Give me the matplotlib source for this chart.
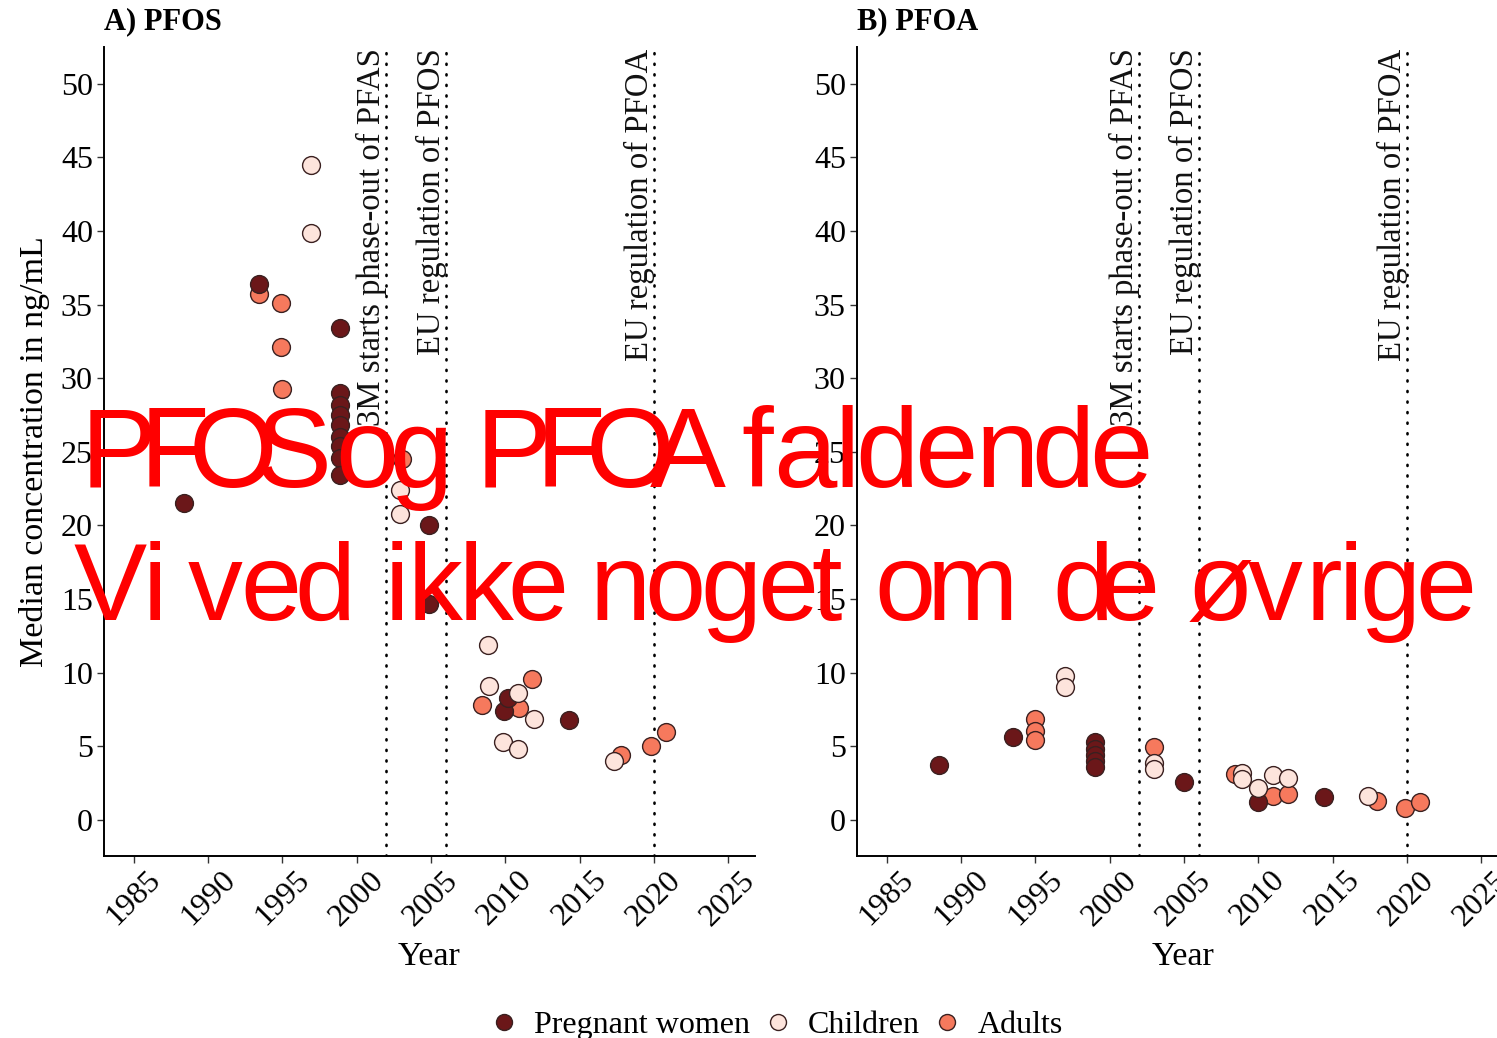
#!/usr/bin/env python3
"""
PFOS / PFOA median concentrations over time, by population group
"""
import matplotlib
matplotlib.use('Agg')
import matplotlib.pyplot as plt
from matplotlib.lines import Line2D
from matplotlib.ft2font import FT2Font
from matplotlib.font_manager import findfont, FontProperties

plt.rcParams['font.family'] = ['Liberation Serif', 'DejaVu Serif']

# === Data: A) PFOS ===
pfos_pregnant_year = [1988.4, 1993.45, 1998.9, 1998.9, 1998.9, 1998.9, 1998.9, 1998.9, 1998.9, 1998.9, 1998.9,
                      2004.85, 2004.85, 2009.9, 2010.2, 2014.3]
pfos_pregnant_val = [21.5, 36.4, 33.4, 29.0, 28.2, 27.5, 26.8, 26.0, 25.4, 24.6, 23.4,
                     20.0, 14.7, 7.4, 8.3, 6.8]
pfos_children_year = [1996.9, 1996.9, 2002.9, 2002.9, 2008.85, 2008.9, 2009.85, 2010.85, 2010.85, 2011.9, 2017.3]
pfos_children_val = [44.5, 39.9, 22.4, 20.8, 11.9, 9.1, 5.3, 8.65, 4.8, 6.84, 4.0]
pfos_adults_year = [1993.4, 1994.9, 1994.9, 1995.0, 2003.05, 2008.4, 2010.9, 2011.8, 2017.8, 2019.8, 2020.8]
pfos_adults_val = [35.7, 35.1, 32.1, 29.3, 24.5, 7.8, 7.6, 9.56, 4.4, 5.0, 5.96]

# === Data: B) PFOA ===
pfoa_pregnant_year = [1988.5, 1993.5, 1999.0, 1999.0, 1999.0, 1999.0, 1999.0, 2005.0, 2010.0, 2014.4]
pfoa_pregnant_val = [3.74, 5.64, 5.3, 4.8, 4.4, 4.0, 3.6, 2.56, 1.2, 1.59]
pfoa_children_year = [1997.0, 1997.0, 2003.0, 2003.0, 2008.9, 2008.9, 2010.0, 2011.0, 2012.0, 2017.4]
pfoa_children_val = [9.78, 9.01, 3.85, 3.46, 3.17, 2.75, 2.2, 3.06, 2.88, 1.63]
pfoa_adults_year = [1994.96, 1994.96, 1994.96, 2003.0, 2008.45, 2011.0, 2012.0, 2018.0, 2019.9, 2020.9]
pfoa_adults_val = [6.88, 6.07, 5.43, 4.98, 3.1, 1.65, 1.77, 1.29, 0.84, 1.2]

# Regulation events
event_years = [2002, 2006, 2020]
event_labels = ['3M starts phase-out of PFAS', 'EU regulation of PFOS', 'EU regulation of PFOA']

x_ticks = [1985, 1990, 1995, 2000, 2005, 2010, 2015, 2020, 2025]
y_ticks = [0, 5, 10, 15, 20, 25, 30, 35, 40, 45, 50]

groups = ['Pregnant women', 'Children', 'Adults']
colors = {'Pregnant women': '#6b1719', 'Children': '#fde4dc', 'Adults': '#f6795d'}
edge = '#3a2020'

# Overlay text (red annotation on top)
overlay_line1 = ['PFOS', 'og', 'PFOA', 'faldende']
overlay_line2 = ['Vi', 'ved', 'ikke', 'noget', 'om', 'de', 'øvrige']

W, H = 1497, 1038
fig = plt.figure(figsize=(W / 100, H / 100), dpi=100)


def draw_panel(ax, data, title):
    """Scatter for one compound"""
    for g in ['Adults', 'Pregnant women', 'Children']:
        yrs, vals = data[g]
        ax.scatter(yrs, vals, s=165, color=colors[g], edgecolors=edge, linewidths=1.0, zorder=3)

    # dotted regulation lines + rotated labels
    for yr, lab in zip(event_years, event_labels):
        ax.axvline(yr, color='black', linestyle=(0, (0.4, 3.6)), linewidth=1.9,
                   dash_capstyle='round', zorder=2)
        ax.text(yr - 1.0, 52.4, lab, rotation=90, ha='center', va='top', fontsize=23.6,
                color='#111111', zorder=4, clip_on=False)

    ax.set_xlim(1983, 2026.8)
    ax.set_ylim(-2.45, 52.5)
    ax.set_xticks(x_ticks)
    ax.set_yticks(y_ticks)
    ax.set_xticklabels([str(t) for t in x_ticks], rotation=45, ha='center')
    ax.tick_params(axis='both', labelsize=23, length=5, width=1.0, color='#333333', pad=3)
    ax.tick_params(axis='x', pad=2)
    for side in ['top', 'right']:
        ax.spines[side].set_visible(False)
    for side in ['left', 'bottom']:
        ax.spines[side].set_linewidth(1.4)
    ax.set_xlabel('Year', fontsize=24.5, labelpad=7)
    ax.set_title(title, loc='left', fontsize=22, fontweight='bold', x=0.0, y=1.0, pad=13)


ax_a = fig.add_axes([104 / W, (H - 856) / H, 651 / W, 809 / H])
ax_b = fig.add_axes([857 / W, (H - 856) / H, 651 / W, 809 / H])

draw_panel(ax_a, {'Pregnant women': (pfos_pregnant_year, pfos_pregnant_val),
                  'Children': (pfos_children_year, pfos_children_val),
                  'Adults': (pfos_adults_year, pfos_adults_val)}, 'A) PFOS')
draw_panel(ax_b, {'Pregnant women': (pfoa_pregnant_year, pfoa_pregnant_val),
                  'Children': (pfoa_children_year, pfoa_children_val),
                  'Adults': (pfoa_adults_year, pfoa_adults_val)}, 'B) PFOA')
ax_a.set_ylabel('Median concentration in ng/mL', fontsize=24.5, labelpad=8)

# Legend at bottom
handles = [Line2D([0], [0], marker='o', linestyle='', markersize=11.5,
                  markerfacecolor=colors[g], markeredgecolor=edge, markeredgewidth=1.0)
           for g in groups]
fig.legend(handles, groups, loc='center', bbox_to_anchor=(777 / W, 13 / H), ncol=3,
           frameon=False, fontsize=23, handlelength=0.8, handletextpad=0.55,
           columnspacing=0.45, borderpad=0)


# Red overlay text: tightly tracked, so letters are set one by one
def tight_word(word, x_start, x_end, baseline, size):
    """Place a word letter by letter so its ink runs from x_start to x_end (pixels)"""
    font = FT2Font(findfont(FontProperties(family='Liberation Sans')))
    font.set_size(size, 100)
    glyphs = [font.load_char(ord(c)) for c in word]
    adv = [g.linearHoriAdvance / 65536 for g in glyphs]
    lsb = [g.horiBearingX / 64 for g in glyphs]
    wid = [g.width / 64 for g in glyphs]
    origin0 = x_start - lsb[0]
    total = sum(adv[:-1])
    k = (x_end - lsb[-1] - wid[-1] - origin0) / total if total else 1.0
    pos = origin0
    for c, a, b in zip(word, adv, lsb):
        fig.text((pos + b) / W, 1 - baseline / H, c, fontsize=size, color='#ff0000',
                 ha='left', va='baseline', family='Liberation Sans', zorder=10)
        pos += a * k


line1_start = [81, 335, 476, 741]
line1_end = [322, 440, 725, 1143]
line2_start = [74, 188, 385, 590, 874, 1052, 1187]
line2_end = [152, 344, 559, 839, 1004, 1150, 1467]
for word, x0, x1 in zip(overlay_line1, line1_start, line1_end):
    tight_word(word, x0, x1, 487, 82)
for word, x0, x1 in zip(overlay_line2, line2_start, line2_end):
    tight_word(word, x0, x1, 620, 79)

fig.savefig('out.png', dpi=100)
